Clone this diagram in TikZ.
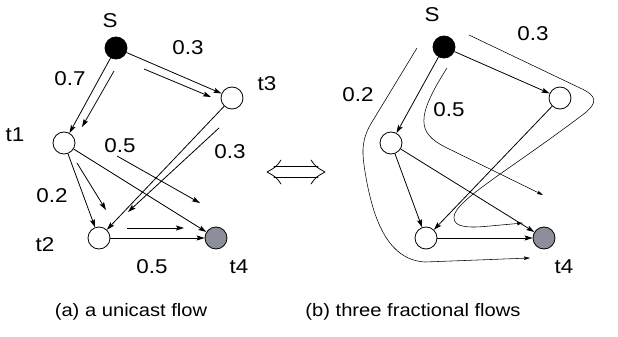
\documentclass[tikz,border=0pt]{standalone}
\usepackage{fontspec}
\setmainfont{Liberation Sans}[FakeStretch=1.12]
\usetikzlibrary{arrows.meta}
\definecolor{sinkgray}{RGB}{140,143,155}
\begin{document}
\begin{tikzpicture}[x=1pt,y=-1pt,
  vertex/.style={circle,draw,line width=0.8pt,minimum size=22pt,inner sep=0pt,fill=white},
  source/.style={vertex,fill=black},
  sink/.style={vertex,fill=sinkgray},
  link/.style={line width=0.8pt,-{Stealth[length=8pt,width=5pt,inset=1.5pt]}},
  flowarrow/.style={line width=0.8pt,-{Stealth[length=8pt,width=5pt,inset=1.5pt]}},
  route/.style={line width=0.55pt,-{Stealth[length=6pt,width=3.5pt,inset=1pt]}},
  equiv/.style={line width=0.8pt,line cap=round,line join=round},
  lbl/.style={font=\fontsize{20}{22}\selectfont,inner sep=0pt},
  captext/.style={font=\fontsize{18}{21}\selectfont,inner sep=0pt}
]
\useasboundingbox (0,0) rectangle (618,337);

% ---------- (a) a unicast flow ----------
\node[source] (sa)  at (116,48)  {};
\node[vertex] (t3a) at (232,98)  {};
\node[vertex] (t1a) at (64,143)  {};
\node[vertex] (t2a) at (99,238)  {};
\node[sink]   (t4a) at (216,238) {};

\draw[link] (sa)  -- (t1a);
\draw[link] (sa)  -- (t3a);
\draw[link] (t1a) -- (t2a);
\draw[link] (t1a) -- (t4a);
\draw[link] (t3a) -- (t2a);
\draw[link] (t2a) -- (t4a);

% flow amounts carried along the edges
\coordinate (fa1) at (114,71);  \coordinate (fb1) at (82,127);
\coordinate (fa2) at (144,69);  \coordinate (fb2) at (211,97);
\coordinate (fa3) at (77,163);  \coordinate (fb3) at (106,210);
\coordinate (fa4) at (117,156); \coordinate (fb4) at (200,203);
\coordinate (fa5) at (219,128); \coordinate (fb5) at (128,212);
\coordinate (fa6) at (127,228); \coordinate (fb6) at (184,228);
\foreach \i in {1,...,6} \draw[flowarrow] (fa\i) -- (fb\i);

\node[lbl] (ls)  at (110,21)  {S};
\node[lbl] (l03) at (188,48)  {0.3};
\node[lbl] (l07) at (70,79)   {0.7};
\node[lbl] (lt3) at (267,84)  {t3};
\node[lbl] (lt1) at (15,135)  {t1};
\node[lbl] (l05) at (120,146) {0.5};
\node[lbl] (l03b) at (230,152) {0.3};
\node[lbl] (l02) at (52,196)  {0.2};
\node[lbl] (lt2) at (45,245)  {t2};
\node[lbl] (l05b) at (152,267) {0.5};
\node[lbl] (lt4) at (239,267) {t4};

% ---------- equivalence sign (double arrow) ----------
\draw[equiv] (274,166.5) -- (318,166.5);
\draw[equiv] (274,177.5) -- (318,177.5);
\draw[equiv] (281,160) .. controls (276,167) .. (267,172) .. controls (276,177) .. (281,184);
\draw[equiv] (311,160) .. controls (316,167) .. (325,172) .. controls (316,177) .. (311,184);

% ---------- (b) three fractional flows ----------
\node[source] (sb)  at (444,47)  {};
\node[vertex] (t3b) at (560,98)  {};
\node[vertex] (t1b) at (391,143) {};
\node[vertex] (t2b) at (426,238) {};
\node[sink]   (t4b) at (544,238) {};

\draw[link] (sb)  -- (t1b);
\draw[link] (sb)  -- (t3b);
\draw[link] (t1b) -- (t2b);
\draw[link] (t1b) -- (t4b);
\draw[link] (t3b) -- (t2b);
\draw[link] (t2b) -- (t4b);

% path of flow 0.2: S - t1 - t2 - t4
\draw[route] (417,48) -- (372,122)
  .. controls (362,138) and (362,150) .. (364,165)
  .. controls (372,220) and (388,260) .. (425,262) -- (530,258);

% path of flow 0.5: S - t1 - t4
\draw[route] (447,68) .. controls (415,118) and (418,133) .. (445,147) -- (543,195);

% path of flow 0.3: S - t3 - t2 - t4
\draw[route] (469,35) -- (580,88)
  .. controls (598,96) and (597,103) .. (585,113)
  .. controls (510,170) and (455,200) .. (454,217)
  .. controls (453,228) and (470,228) .. (490,226) -- (523,223);

\node[lbl] (rs)  at (432,15)  {S};
\node[lbl] (r03) at (533,34)  {0.3};
\node[lbl] (r02) at (358,95)  {0.2};
\node[lbl] (r05) at (449,110) {0.5};
\node[lbl] (rt4) at (564,267) {t4};

% ---------- captions ----------
\node[captext] (capa) at (131,312) {(a) a unicast flow};
\node[captext] (capb) at (413,312) {(b) three fractional flows};
\end{tikzpicture}
\end{document}
